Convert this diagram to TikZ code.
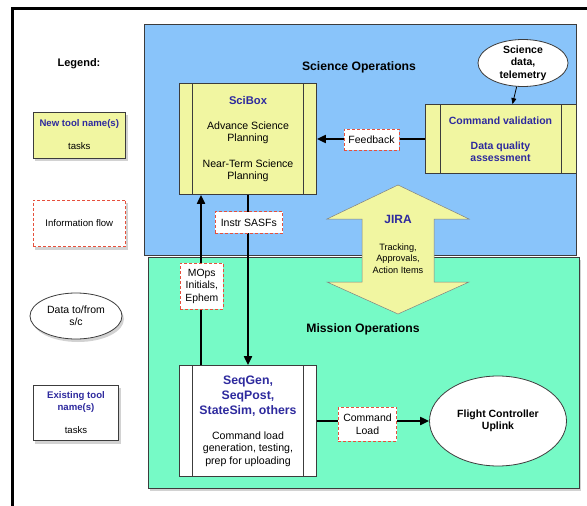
\documentclass[tikz,border=0pt]{standalone}
\usepackage{fontspec}
\setmainfont{Liberation Sans}
\usetikzlibrary{shapes.geometric, arrows.meta, shadows}

\definecolor{sciblue}{RGB}{137,196,250}
\definecolor{opsgreen}{RGB}{118,250,198}
\definecolor{toolyellow}{RGB}{241,246,161}
\definecolor{namecol}{RGB}{46,42,158}
\definecolor{flowred}{RGB}{230,80,60}
\definecolor{edgegray}{RGB}{60,60,60}

\newcommand{\fsz}[2]{\fontsize{#1}{#2}\selectfont}
\newcommand{\toolname}[1]{\textcolor{namecol}{\bfseries #1}}

\tikzset{
  region/.style={rectangle, draw=edgegray, line width=0.8pt, inner sep=0pt},
  toolbox/.style={rectangle, draw=edgegray, line width=0.8pt, fill=toolyellow, align=center, inner sep=0pt},
  flowbox/.style={rectangle, draw=flowred, line width=0.8pt, dash pattern=on 3pt off 2pt, fill=white, align=center, inner sep=0pt, font=\fsz{10.5}{12}},
  datablob/.style={ellipse, draw=edgegray, line width=0.8pt, fill=white, align=center, inner sep=0pt},
  link/.style={-{Triangle[length=9pt,width=8pt]}, line width=2pt},
  legshadow/.style={drop shadow={opacity=0.35, shadow xshift=2pt, shadow yshift=-3pt}},
}

\begin{document}
\begin{tikzpicture}[x=1pt, y=-1pt]
  \useasboundingbox (0,0) rectangle (587,506);
  \fill[white] (0,0) rectangle (587,506);
  \draw[line width=3pt] (587,8) -- (12,8) -- (12,506);

  \node[region, fill=sciblue, minimum width=432pt, minimum height=231pt] (sciops) at (360,139.5) {};
  \node[region, fill=opsgreen, minimum width=431pt, minimum height=231pt, legshadow] (missionops) at (363.5,372.5) {};
  \node[font=\fsz{12.2}{14}\bfseries] (scititle) at (359,67) {Science Operations};
  \node[font=\fsz{12.2}{14}\bfseries] (opstitle) at (363,329) {Mission Operations};

  % legend
  \node[font=\fsz{11}{13}\bfseries] (legend) at (79,64) {Legend:};
  \node[toolbox, legshadow, minimum width=92.7pt, minimum height=46pt, font=\fsz{9.6}{11}] (newtool) at (79.3,135) {\toolname{New tool name(s)}\\[12pt] tasks};
  \node[flowbox, legshadow, minimum width=92.7pt, minimum height=46.7pt, font=\fsz{9.6}{11}] (infoflow) at (79.3,223.3) {Information flow};
  \node[datablob, legshadow, minimum width=92pt, minimum height=46pt, font=\fsz{10.5}{12}] (datalegend) at (76,316) {Data to/from\\s/c};
  \node[toolbox, fill=white, legshadow, minimum width=85.4pt, minimum height=55.4pt, font=\fsz{9.6}{12}] (oldtool) at (76,413) {\toolname{Existing tool}\\\toolname{name(s)}\\[11pt] tasks};

  % tools
  \node[toolbox, minimum width=137pt, minimum height=111pt, font=\fsz{10.6}{12}] (scibox) at (248,139) {\toolname{\fsz{11.2}{12}SciBox}\\[13pt] Advance Science\\Planning\\[14pt] Near-Term Science\\Planning};
  \draw[edgegray, line width=0.8pt] ([xshift=13pt]scibox.north west) -- ([xshift=13pt]scibox.south west)
    ([xshift=-14pt]scibox.north east) -- ([xshift=-14pt]scibox.south east);

  \node[toolbox, minimum width=151pt, minimum height=69pt, font=\fsz{10.5}{12}\bfseries, text=namecol] (cmdval) at (500.5,139) {Command validation\\[13pt] Data quality\\assessment};
  \draw[edgegray, line width=0.8pt] ([xshift=15.7pt]cmdval.north west) -- ([xshift=15.7pt]cmdval.south west)
    ([xshift=-15pt]cmdval.north east) -- ([xshift=-15pt]cmdval.south east);

  \node[datablob, inner sep=-2pt, minimum width=90pt, minimum height=47pt, font=\fsz{10.5}{12.5}\bfseries] (scidata) at (523,63) {Science\\data,\\telemetry};

  \node[toolbox, fill=white, minimum width=137pt, minimum height=111pt, font=\fsz{10.6}{12.5}] (seqgen) at (248,421) {\toolname{\fsz{12.3}{15}SeqGen,}\\[2.5pt] \toolname{\fsz{12.3}{15}SeqPost,}\\[2.5pt] \toolname{\fsz{12.3}{15}StateSim, others}\\[12.8pt] Command load\\generation, testing,\\prep for uploading};
  \draw[edgegray, line width=0.8pt] ([xshift=13pt]seqgen.north west) -- ([xshift=13pt]seqgen.south west)
    ([xshift=-14pt]seqgen.north east) -- ([xshift=-14pt]seqgen.south east);

  \node[datablob, minimum width=137pt, minimum height=90pt, font=\fsz{10.5}{12}\bfseries] (flight) at (498,421) {Flight Controller\\Uplink};

  % JIRA
  \filldraw[fill=toolyellow, draw=gray, line width=0.5pt] (398,185) -- (469,219) -- (434,219) -- (434,282) -- (469,282) -- (398,314) -- (327,282) -- (362,282) -- (362,219) -- (327,219) -- cycle;
  \node[font=\fsz{9.2}{11.5}, align=center] (jira) at (398,244) {\toolname{\fsz{12}{14}JIRA}\\[15.5pt] Tracking,\\Approvals,\\Action Items};

  \draw[link] (cmdval) -- (scibox);
  \draw[link] (scibox) -- (seqgen);
  \draw[link] ([xshift=-47pt]seqgen.north) -- ([xshift=-47pt]scibox.south);
  \draw[link] (seqgen) -- (flight);
  \draw[-{Triangle[length=6pt,width=5pt]}, line width=0.8pt] (scidata.255) -- ([xshift=12pt]cmdval.north);

  \node[flowbox, minimum width=55pt, minimum height=21pt] (feedback) at (371.5,139.5) {Feedback};
  \node[flowbox, minimum width=67.7pt, minimum height=21.6pt] (sasfs) at (248.8,222.5) {Instr SASFs};
  \node[flowbox, minimum width=43pt, minimum height=46pt, font=\fsz{10.4}{12.5}] (mops) at (201.8,286.3) {MOps\\Initials,\\Ephem};
  \node[flowbox, minimum width=58.4pt, minimum height=33.7pt, font=\fsz{10.5}{13}] (cmdload) at (367.5,424.2) {Command\\Load};
\end{tikzpicture}
\end{document}
